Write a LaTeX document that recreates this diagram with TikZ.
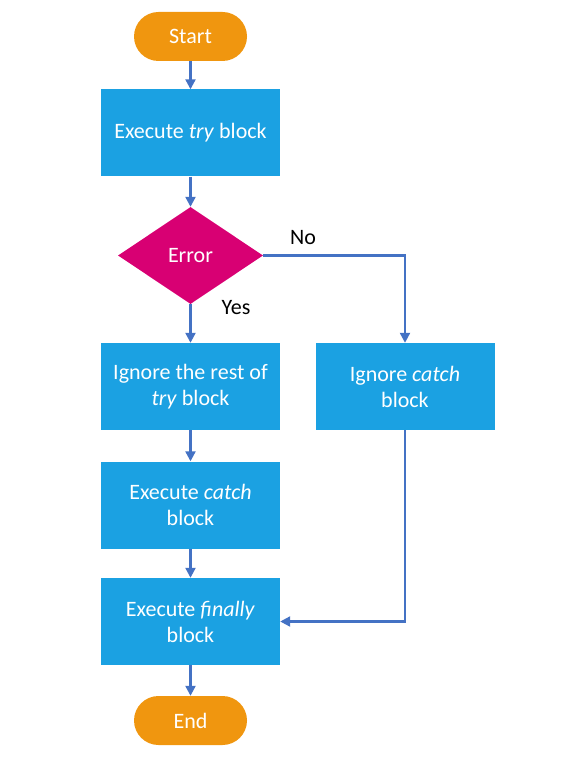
\documentclass[tikz,border=0pt]{standalone}
\usepackage{fontspec}
\setmainfont{Carlito}
\usetikzlibrary{shapes.geometric,arrows.meta}
\definecolor{orng}{HTML}{F0960F}
\definecolor{bblue}{HTML}{1BA1E2}
\definecolor{mag}{HTML}{D80073}
\definecolor{arr}{HTML}{4472C4}
\begin{document}
\begin{tikzpicture}[x=1pt,y=-1pt,
  term/.style={rounded corners=24.5pt, fill=orng, minimum width=113pt, minimum height=49pt, text=white, font=\fontsize{22}{26}\selectfont, inner sep=0pt},
  proc/.style={fill=bblue, minimum width=179pt, minimum height=87pt, text=white, align=center, font=\fontsize{22}{26}\selectfont, inner sep=0pt},
  dec/.style={diamond, fill=mag, minimum width=145pt, minimum height=97pt, aspect=1.5, text=white, font=\fontsize{22}{26}\selectfont, inner sep=0pt},
  conn/.style={draw=arr, line width=2.2pt, -{Triangle[length=10pt,width=10pt]}},
  lbl/.style={font=\fontsize{22}{26}\selectfont, text=black}]
\useasboundingbox (0,0) rectangle (582,762);
\node[term] (start) at (190.5,36.5) {Start};
\node[proc] (try) at (190.5,133) {Execute \textit{try} block};
\node[dec] (err) at (190.5,255.5) {Error};
\node[proc] (ign) at (190.5,386.5) {Ignore the rest of\\\textit{try} block};
\node[proc] (igc) at (405,386.5) {Ignore \textit{catch}\\block};
\node[proc] (exc) at (190.5,505) {Execute \textit{catch}\\block};
\node[proc] (fin) at (190.5,621.5) {Execute \textit{finally}\\block};
\node[term] (end) at (190.5,720.5) {End};
\draw[conn] (start) -- (try);
\draw[conn] (try) -- (err);
\draw[conn] (err.south) -- (ign);
\draw[conn] (err.east) -| (igc);
\draw[conn] (ign) -- (exc);
\draw[conn] (exc) -- (fin);
\draw[conn] (igc) |- (fin);
\draw[conn] (fin) -- (end);
\node[lbl] (no) at (303,238) {No};
\node[lbl] (yes) at (236,308) {Yes};
\end{tikzpicture}
\end{document}
